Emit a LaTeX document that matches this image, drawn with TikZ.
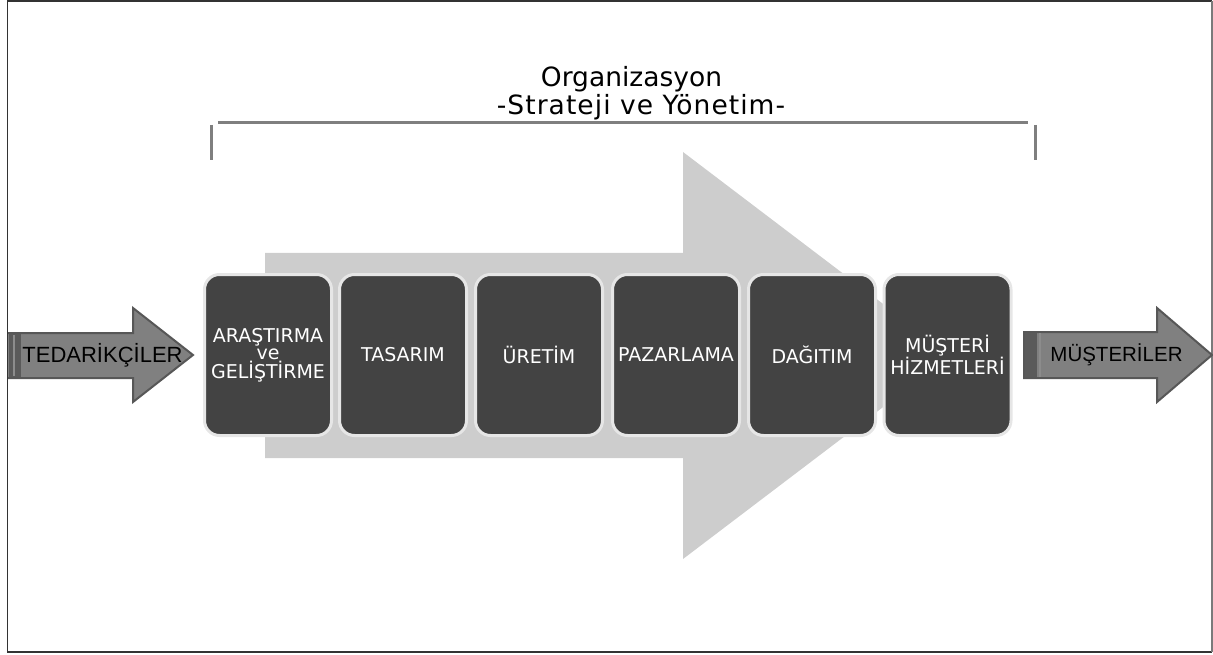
\documentclass[tikz,border=0pt]{standalone}
\usepackage{fontspec}
\setmainfont{DejaVu Sans}
\newfontfamily\titlefont{DejaVu Sans}
\newfontfamily\stepfont{DejaVu Sans}
\newfontfamily\sidefont{Liberation Sans}

\definecolor{framedark}{HTML}{333333}
\definecolor{framelight}{HTML}{7A7A7A}
\definecolor{bracketgray}{HTML}{7F7F7F}
\definecolor{flowgray}{HTML}{CDCDCD}
\definecolor{stepfill}{HTML}{434343}
\definecolor{steprim}{HTML}{E6E6E6}
\definecolor{sidefill}{HTML}{808080}
\definecolor{sideedge}{HTML}{575757}
\definecolor{sidestrip}{HTML}{5A5A5A}
\definecolor{sidestripline}{HTML}{8C8C8C}

\tikzset{
  stepbox/.style={draw=steprim, line width=3pt, fill=stepfill, rounded corners=15pt,
    minimum width=127pt, minimum height=161pt, inner sep=0pt, align=center,
    text=white, font=\stepfont\fontsize{19}{17}\selectfont},
  sidearrow/.style={fill=sidefill, draw=sideedge, line width=2pt, line join=miter},
  sidelabel/.style={inner sep=0pt, text=black},
  titlelabel/.style={inner sep=0pt, anchor=base, text=black,
    font=\titlefont\fontsize{26.5}{30}\selectfont},
  bracketline/.style={draw=bracketgray, line width=3pt}
}

\begin{document}
\begin{tikzpicture}[x=1pt,y=-1pt]
\useasboundingbox (0,0) rectangle (1213,655);

% outer frame
\draw[framedark, line width=1.5pt] (1212,1) -- (7.5,1) -- (7.5,652) -- (1212,652);
\draw[framelight, line width=1.5pt] (1212,1) -- (1212,652);

% title
\node[titlelabel] (title1) at (631.5,87) {Organizasyon};
\node[titlelabel] (title2) at (641,115) {\addfontfeatures{LetterSpace=4}-Strateji ve Yönetim-};

% bracket spanning the value chain
\coordinate (brL) at (218,123);
\coordinate (brR) at (1028,123);
\coordinate (tickLt) at (211,125);
\coordinate (tickLb) at (211,160);
\coordinate (tickRt) at (1035,125);
\coordinate (tickRb) at (1035,160);
\draw[bracketline] (brL) -- (brR);
\draw[bracketline] (tickLt) -- (tickLb);
\draw[bracketline] (tickRt) -- (tickRb);

% large background flow arrow
\fill[flowgray] (265,253) -- (683,253) -- (683,152) -- (951,355.5)
  -- (683,559) -- (683,458) -- (265,458) -- cycle;

% value chain steps
\node[stepbox] (b1) at (268,355) {ARAŞTIRMA\\ve\\GELİŞTİRME};
\node[stepbox] (b2) at (403,355) {TASARIM};
\node[stepbox] (b3) at (539,355) {ÜRETİM};
\node[stepbox] (b4) at (676,355) {PAZARLAMA};
\node[stepbox] (b5) at (812,355) {DAĞITIM};
\node[stepbox] (b6) at (947.5,355) {MÜŞTERİ\\HİZMETLERİ};

% suppliers arrow (left)
\draw[sidearrow] (8,333) -- (133,333) -- (133,308) -- (193,355)
  -- (133,402) -- (133,378) -- (8,378);
\fill[sidestrip] (9,334) rectangle (21,377);
\draw[sidestripline, line width=1.5pt] (14,335) -- (14,376);
\node[sidelabel, font=\sidefont\fontsize{22}{24}\selectfont] (sup) at (102.5,355) {TEDARİKÇİLER};

% customers arrow (right)
\draw[sidearrow] (1024,332) -- (1157,332) -- (1157,308) -- (1212,355)
  -- (1157,402) -- (1157,378) -- (1024,378) -- cycle;
\fill[sidestrip] (1025,333) rectangle (1037,377);
\draw[sidestripline, line width=2pt] (1040,333) -- (1040,377);
\node[sidelabel, font=\sidefont\fontsize{20.5}{22}\selectfont] (cus) at (1116.5,355) {MÜŞTERİLER};
\end{tikzpicture}
\end{document}
